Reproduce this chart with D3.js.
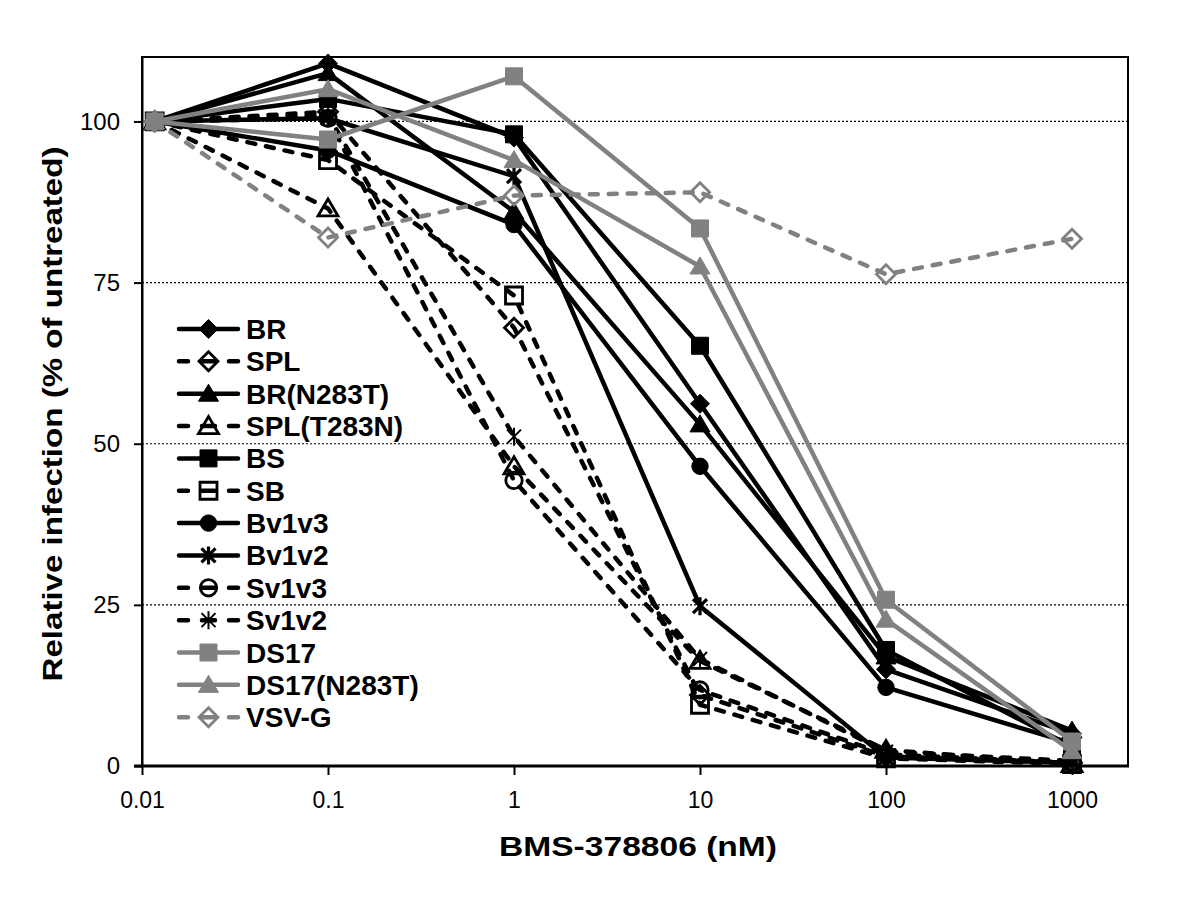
<!DOCTYPE html>
<html><head><meta charset="utf-8">
<script src="https://cdn.jsdelivr.net/npm/d3@7"></script>
<style>body{margin:0;background:#fff}svg{display:block;font-family:Arial,"Liberation Sans",sans-serif}</style>
</head><body><svg id="c" width="1200" height="921"></svg>
<script>
const doses = [0.0117, 0.1, 1, 10, 100, 1000];
const xTicks = [0.01, 0.1, 1, 10, 100, 1000];
const xTickLabels = ["0.01", "0.1", "1", "10", "100", "1000"];
const yTicks = [0, 25, 50, 75, 100];
const seriesNames = ["BR","SPL","BR(N283T)","SPL(T283N)","BS","SB","Bv1v3","Bv1v2","Sv1v3","Sv1v2","DS17","DS17(N283T)","VSV-G"];
const BR        = [100, 109,   97.5, 56.2, 15,   5];
const SPL       = [100, 101.5, 68,   11,   1.5,  0.5];
const BR_N283T  = [100, 107.5, 86,   53,   17,   5.5];
const SPL_T283N = [100, 86.5,  46.5, 16.3, 2.5,  0.3];
const BS        = [100, 103.5, 98,   65.2, 18,   3];
const SB        = [100, 94,    73,   9.5,  1.2,  0.3];
const Bv1v3     = [100, 95.5,  84,   46.5, 12.2, 3.5];
const Bv1v2     = [100, 100.5, 91.5, 24.8, 1.3,  0.5];
const Sv1v3     = [100, 100.5, 44.3, 11.8, 1.8,  0.5];
const Sv1v2     = [100, 101,   51.1, 16.6, 2.2,  0.8];
const DS17      = [100, 97.2,  107,  83.4, 25.8, 3.8];
const DS17_N283T= [100, 105,   94,   77.5, 22.7, 2.3];
const VSVG      = [100, 82,    88.5, 89,   76.3, 81.8];
const seriesValues = [BR,SPL,BR_N283T,SPL_T283N,BS,SB,Bv1v3,Bv1v2,Sv1v3,Sv1v2,DS17,DS17_N283T,VSVG];

// styles (not data)
const BLACK = "#000", GREY = "#818181";
const styles = [
  {c:BLACK, dash:false, m:"diamond", fill:true},
  {c:BLACK, dash:true,  m:"diamond", fill:false},
  {c:BLACK, dash:false, m:"triangle", fill:true},
  {c:BLACK, dash:true,  m:"triangle", fill:false},
  {c:BLACK, dash:false, m:"square", fill:true},
  {c:BLACK, dash:true,  m:"square", fill:false},
  {c:BLACK, dash:false, m:"circle", fill:true},
  {c:BLACK, dash:false, m:"star", fill:true, sw:3.2},
  {c:BLACK, dash:true,  m:"circle", fill:false},
  {c:BLACK, dash:true,  m:"star", fill:false, sw:2},
  {c:GREY,  dash:false, m:"square", fill:true},
  {c:GREY,  dash:false, m:"triangle", fill:true},
  {c:GREY,  dash:true,  m:"diamond", fill:false}
];

const svg = d3.select("#c");
const L = 142, R = 1128, T = 57, B = 766;
const x = d3.scaleLog().domain([0.01, 2000]).range([L, R]);
const y = d3.scaleLinear().domain([0, 110]).range([B, T]);

// gridlines
svg.append("g").selectAll("line").data(yTicks.filter(d=>d>0)).join("line")
  .attr("x1", L).attr("x2", R).attr("y1", d=>y(d)).attr("y2", d=>y(d))
  .attr("stroke", "#000").attr("stroke-width", 1.2).attr("stroke-dasharray", "2,2");

// frame
svg.append("rect").attr("x", L).attr("y", T).attr("width", R-L).attr("height", B-T)
  .attr("fill", "none").attr("stroke", "#000").attr("stroke-width", 2);

// axes
const xAxis = d3.axisBottom(x).tickValues(xTicks).tickFormat((d,i)=>xTickLabels[i]).tickSize(9).tickSizeOuter(0).tickPadding(17);
const gx = svg.append("g").attr("transform", `translate(0,${B})`).call(xAxis);
gx.select(".domain").attr("stroke-width", 3).attr("d", `M${L-8},0H${R+1}`);
gx.selectAll(".tick line").attr("stroke-width", 2);
gx.selectAll("text").attr("font-size", 23).attr("font-family", "Arial, 'Liberation Sans', sans-serif").attr("fill", "#000");

const yAxis = d3.axisLeft(y).tickValues(yTicks).tickSize(8).tickSizeOuter(0).tickPadding(14);
const gy = svg.append("g").attr("transform", `translate(${L},0)`).call(yAxis);
gy.select(".domain").attr("stroke-width", 2);
gy.selectAll(".tick line").attr("stroke-width", 2);
gy.selectAll("text").attr("font-size", 24).attr("font-family", "Arial, 'Liberation Sans', sans-serif").attr("fill", "#000");

// titles
svg.append("text").attr("x", 638).attr("y", 856).attr("text-anchor", "middle")
  .attr("font-size", 28).attr("font-weight", "bold").attr("textLength", 278).attr("lengthAdjust", "spacingAndGlyphs")
  .text("BMS-378806 (nM)");
svg.append("text").attr("transform", "translate(62,414) rotate(-90)").attr("text-anchor", "middle")
  .attr("font-size", 28).attr("font-weight", "bold").attr("textLength", 535).attr("lengthAdjust", "spacingAndGlyphs")
  .text("Relative infection (% of untreated)");

function markerPath(m) {
  if (m === "diamond") return "M0,-9.5L9.5,0L0,9.5L-9.5,0Z";
  if (m === "triangle") return "M0,-9.5L10,7.5L-10,7.5Z";
  if (m === "square") return "M-8.5,-8.5H8.5V8.5H-8.5Z";
  if (m === "circle") return d3.symbol().type(d3.symbolCircle).size(Math.PI*8.2*8.2)();
  if (m === "star") return "M-7,-7L7,7M-7,7L7,-7M0,-9V9";
  return "";
}
function drawMarker(g, st, px, py) {
  const p = g.append("path").attr("d", markerPath(st.m)).attr("transform", `translate(${px},${py})`);
  if (st.m === "star") {
    p.attr("fill", "none").attr("stroke", st.c).attr("stroke-width", st.sw);
  } else if (st.fill) {
    p.attr("fill", st.c).attr("stroke", st.c).attr("stroke-width", 1);
  } else {
    p.attr("fill", "none").attr("stroke", st.c).attr("stroke-width", 2.8);
  }
}

const line = d3.line().x(d=>x(d[0])).y(d=>y(d[1]));
const plot = svg.append("g");
seriesValues.forEach((vals, i) => {
  const st = styles[i];
  const pts = vals.map((v, j) => [doses[j], v]);
  const g = plot.append("g");
  const p = g.append("path").attr("d", line(pts)).attr("fill", "none").attr("stroke", st.c)
    .attr("stroke-width", 4.5).attr("stroke-linejoin", "round");
  if (st.dash) p.attr("stroke-dasharray", "8,11").attr("stroke-linecap", "round");
  pts.forEach(d => drawMarker(g, st, x(d[0]), y(d[1])));
});

// legend
const lg = svg.append("g");
const lx0 = 179, lx1 = 238, ly0 = 329, ldy = 32.35;
seriesNames.forEach((name, i) => {
  const st = styles[i];
  const yy = ly0 + i*ldy;
  const ln = lg.append("line").attr("x1", lx0).attr("x2", lx1).attr("y1", yy).attr("y2", yy)
    .attr("stroke", st.c).attr("stroke-width", 4.5).attr("stroke-linecap", "round");
  if (st.dash) ln.attr("stroke-dasharray", "9,14,13,14,9");
  drawMarker(lg, st, (lx0+lx1)/2, yy);
  lg.append("text").attr("x", 246).attr("y", yy + 10).attr("font-size", 28).attr("font-weight", "bold").text(name);
});
</script></body></html>
